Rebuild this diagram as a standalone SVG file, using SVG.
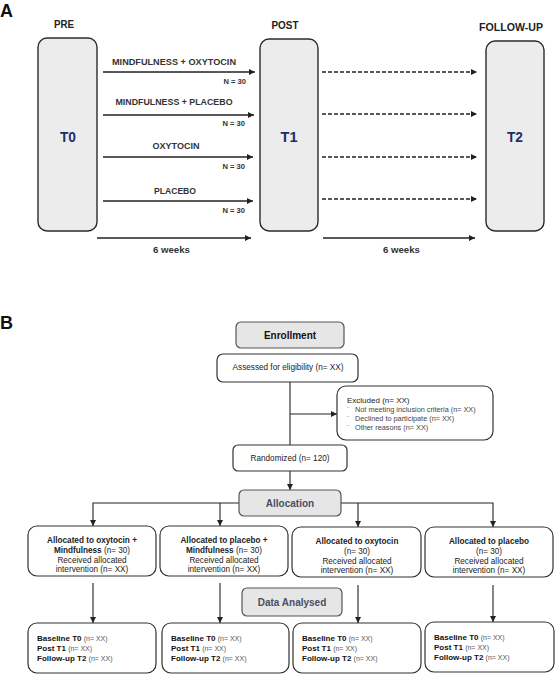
<svg xmlns="http://www.w3.org/2000/svg" width="555" height="675" viewBox="0 0 555 675">
<style>
text{font-family:"Liberation Sans",Arial,sans-serif;fill:#222}
.panel{font-size:18px;font-weight:bold;fill:#111}
.phase{fill:#ececec;stroke:#2b2b2b;stroke-width:1.4}
.ttl{font-size:10px;font-weight:bold;text-anchor:middle}
.tl{font-size:15px;font-weight:bold;text-anchor:middle;fill:#1c2d6b}
.arm{font-size:9.5px;font-weight:bold;text-anchor:middle;fill:#333}
.n{font-size:7.6px;font-weight:bold;text-anchor:end;fill:#333}
.wk{font-size:9.6px;font-weight:bold;fill:#333}
.ln{stroke:#222;stroke-width:1.3;fill:none}
.dash{stroke:#222;stroke-width:1.3;fill:none;stroke-dasharray:4 2}
.box{fill:#fff;stroke:#333;stroke-width:1.2}
.gbox{fill:#e6e6e6;stroke:#555;stroke-width:1.2}
.hd{font-size:10px;font-weight:bold;text-anchor:middle;fill:#4a4f63}
.hd2{font-size:10px;font-weight:bold;text-anchor:middle;fill:#111}
.t{font-size:8.2px;text-anchor:middle;fill:#222}
.b{font-weight:bold}
.ex{font-size:8px;fill:#222}
.exi{font-size:7.3px;fill:#444}
.res{font-size:8px;font-weight:bold;fill:#111}
.rn{font-size:7px;font-weight:normal;fill:#555}
.cl{stroke:#222;stroke-width:1.1;fill:none}
</style>
<defs>
<marker id="ah" viewBox="0 0 6 6" refX="6" refY="3" markerWidth="6" markerHeight="6" markerUnits="userSpaceOnUse" orient="auto">
<path d="M0,0 L6,3 L0,6 z" fill="#222"/>
</marker>
</defs>

<text class="panel" x="0" y="17">A</text>
<text class="panel" x="0" y="329">B</text>

<g id="pre">
<text class="ttl" x="64" y="28" textLength="20" lengthAdjust="spacingAndGlyphs">PRE</text>
<rect class="phase" x="38" y="38" width="59" height="193" rx="9"/>
<text class="tl" x="68" y="142" textLength="16" lengthAdjust="spacingAndGlyphs">T0</text>
</g>
<g id="post">
<text class="ttl" x="285" y="29" textLength="27" lengthAdjust="spacingAndGlyphs">POST</text>
<rect class="phase" x="260" y="39" width="58" height="192" rx="9"/>
<text class="tl" x="289" y="142" textLength="17" lengthAdjust="spacingAndGlyphs">T1</text>
</g>
<g id="followup">
<text class="ttl" x="511" y="31" textLength="64" lengthAdjust="spacingAndGlyphs">FOLLOW-UP</text>
<rect class="phase" x="486" y="41" width="58" height="190" rx="9"/>
<text class="tl" x="515" y="142" textLength="16" lengthAdjust="spacingAndGlyphs">T2</text>
</g>

<g id="arms">
<text class="arm" x="174" y="65" textLength="124" lengthAdjust="spacingAndGlyphs">MINDFULNESS + OXYTOCIN</text>
<text class="n" x="246" y="84">N = 30</text>
<text class="arm" x="174" y="105" textLength="117" lengthAdjust="spacingAndGlyphs">MINDFULNESS + PLACEBO</text>
<text class="n" x="245" y="126">N = 30</text>
<text class="arm" x="176" y="149" textLength="47" lengthAdjust="spacingAndGlyphs">OXYTOCIN</text>
<text class="n" x="245" y="169">N = 30</text>
<text class="arm" x="175" y="194" textLength="42" lengthAdjust="spacingAndGlyphs">PLACEBO</text>
<text class="n" x="245" y="213">N = 30</text>
<text class="wk" x="153" y="253">6 weeks</text>
<text class="wk" x="383" y="253">6 weeks</text>
</g>

<g id="connectors-a">
<line class="ln" x1="103" y1="72" x2="255" y2="72" marker-end="url(#ah)"/>
<line class="ln" x1="103" y1="115" x2="254" y2="115" marker-end="url(#ah)"/>
<line class="ln" x1="103" y1="157" x2="253" y2="157" marker-end="url(#ah)"/>
<line class="ln" x1="103" y1="201" x2="253" y2="201" marker-end="url(#ah)"/>
<line class="dash" x1="322" y1="72" x2="477" y2="72" marker-end="url(#ah)"/>
<line class="dash" x1="322" y1="114" x2="477" y2="114" marker-end="url(#ah)"/>
<line class="dash" x1="322" y1="157" x2="477" y2="157" marker-end="url(#ah)"/>
<line class="dash" x1="322" y1="199" x2="477" y2="199" marker-end="url(#ah)"/>
<line class="ln" x1="97" y1="238" x2="251" y2="238" marker-end="url(#ah)"/>
<line class="ln" x1="323" y1="238" x2="475" y2="238" marker-end="url(#ah)"/>
</g>

<g id="connectors-b">
<line class="cl" x1="290" y1="382" x2="290" y2="445"/>
<line class="cl" x1="290" y1="414" x2="337" y2="414" marker-end="url(#ah)"/>
<line class="cl" x1="290" y1="471" x2="290" y2="490" marker-end="url(#ah)"/>
<polyline class="cl" points="239,503 93,503 93,526" marker-end="url(#ah)"/>
<line class="cl" x1="220" y1="503" x2="220" y2="526" marker-end="url(#ah)"/>
<polyline class="cl" points="341,503 493,503 493,527" marker-end="url(#ah)"/>
<line class="cl" x1="358" y1="503" x2="358" y2="527" marker-end="url(#ah)"/>
<line class="cl" x1="93" y1="583" x2="93" y2="623" marker-end="url(#ah)"/>
<line class="cl" x1="220" y1="583" x2="220" y2="623" marker-end="url(#ah)"/>
<line class="cl" x1="358" y1="585" x2="358" y2="623" marker-end="url(#ah)"/>
<line class="cl" x1="493" y1="585" x2="493" y2="622" marker-end="url(#ah)"/>
</g>

<g id="enrollment">
<rect class="gbox" x="236" y="322" width="108" height="26" rx="5"/>
<text class="hd2" x="290" y="339">Enrollment</text>
</g>
<g id="assessed">
<rect class="box" x="217" y="354" width="141" height="28" rx="6"/>
<text class="t" x="288" y="370">Assessed for eligibility (n= XX)</text>
</g>
<g id="excluded">
<rect class="box" x="337" y="386" width="156" height="54" rx="9"/>
<text class="ex" x="347" y="403">Excluded  (n= XX)</text>
<text class="exi" x="347" y="412">¨</text>
<text class="exi" x="355" y="412">Not meeting  inclusion criteria (n= XX)</text>
<text class="exi" x="347" y="421">¨</text>
<text class="exi" x="355" y="421">Declined to participate (n= XX)</text>
<text class="exi" x="347" y="430">¨</text>
<text class="exi" x="355" y="430">Other reasons (n= XX)</text>
</g>
<g id="randomized">
<rect class="box" x="233" y="445" width="114" height="26" rx="5"/>
<text class="t" x="290" y="461">Randomized (n= 120)</text>
</g>
<g id="allocation">
<rect class="gbox" x="239" y="490" width="102" height="26" rx="5"/>
<text class="hd" x="290" y="507">Allocation</text>
</g>

<g id="alloc1">
<rect class="box" x="28" y="526" width="128" height="50" rx="9"/>
<text class="t" x="92" y="543"><tspan class="b">Allocated to oxytocin +</tspan></text>
<text class="t" x="92" y="553"><tspan class="b">Mindfulness</tspan> (n= 30)</text>
<text class="t" x="92" y="562.5">Received allocated</text>
<text class="t" x="92" y="572">intervention (n= XX)</text>
</g>
<g id="alloc2">
<rect class="box" x="160" y="526" width="128" height="50" rx="9"/>
<text class="t" x="224" y="543"><tspan class="b">Allocated to placebo +</tspan></text>
<text class="t" x="224" y="553"><tspan class="b">Mindfulness</tspan> (n= 30)</text>
<text class="t" x="224" y="562.5">Received allocated</text>
<text class="t" x="224" y="572">intervention (n= XX)</text>
</g>
<g id="alloc3">
<rect class="box" x="292" y="527" width="129" height="50" rx="9"/>
<text class="t" x="357" y="544"><tspan class="b">Allocated to oxytocin</tspan></text>
<text class="t" x="357" y="554">(n= 30)</text>
<text class="t" x="357" y="563.5">Received allocated</text>
<text class="t" x="357" y="573">intervention (n= XX)</text>
</g>
<g id="alloc4">
<rect class="box" x="425" y="527" width="128" height="50" rx="9"/>
<text class="t" x="489" y="544"><tspan class="b">Allocated to placebo</tspan></text>
<text class="t" x="489" y="554">(n= 30)</text>
<text class="t" x="489" y="563.5">Received allocated</text>
<text class="t" x="489" y="573">intervention (n= XX)</text>
</g>

<g id="data-analysed">
<rect class="gbox" x="242" y="588" width="100" height="28" rx="5"/>
<text class="hd" x="292" y="606">Data Analysed</text>
</g>

<g id="res1">
<rect class="box" x="28" y="623" width="128" height="50" rx="9"/>
<text class="res" x="37" y="641">Baseline T0 <tspan class="rn">(n= XX)</tspan></text>
<text class="res" x="37" y="651">Post T1 <tspan class="rn">(n= XX)</tspan></text>
<text class="res" x="37" y="661">Follow-up T2 <tspan class="rn">(n= XX)</tspan></text>
</g>
<g id="res2">
<rect class="box" x="162" y="623" width="127" height="50" rx="9"/>
<text class="res" x="171" y="641">Baseline T0 <tspan class="rn">(n= XX)</tspan></text>
<text class="res" x="171" y="651">Post T1 <tspan class="rn">(n= XX)</tspan></text>
<text class="res" x="171" y="661">Follow-up T2 <tspan class="rn">(n= XX)</tspan></text>
</g>
<g id="res3">
<rect class="box" x="293" y="623" width="128" height="50" rx="9"/>
<text class="res" x="302" y="641">Baseline T0 <tspan class="rn">(n= XX)</tspan></text>
<text class="res" x="302" y="651">Post T1 <tspan class="rn">(n= XX)</tspan></text>
<text class="res" x="302" y="661">Follow-up T2 <tspan class="rn">(n= XX)</tspan></text>
</g>
<g id="res4">
<rect class="box" x="425" y="622" width="129" height="50" rx="9"/>
<text class="res" x="434" y="640">Baseline T0 <tspan class="rn">(n= XX)</tspan></text>
<text class="res" x="434" y="650">Post T1 <tspan class="rn">(n= XX)</tspan></text>
<text class="res" x="434" y="660">Follow-up T2 <tspan class="rn">(n= XX)</tspan></text>
</g>
</svg>
